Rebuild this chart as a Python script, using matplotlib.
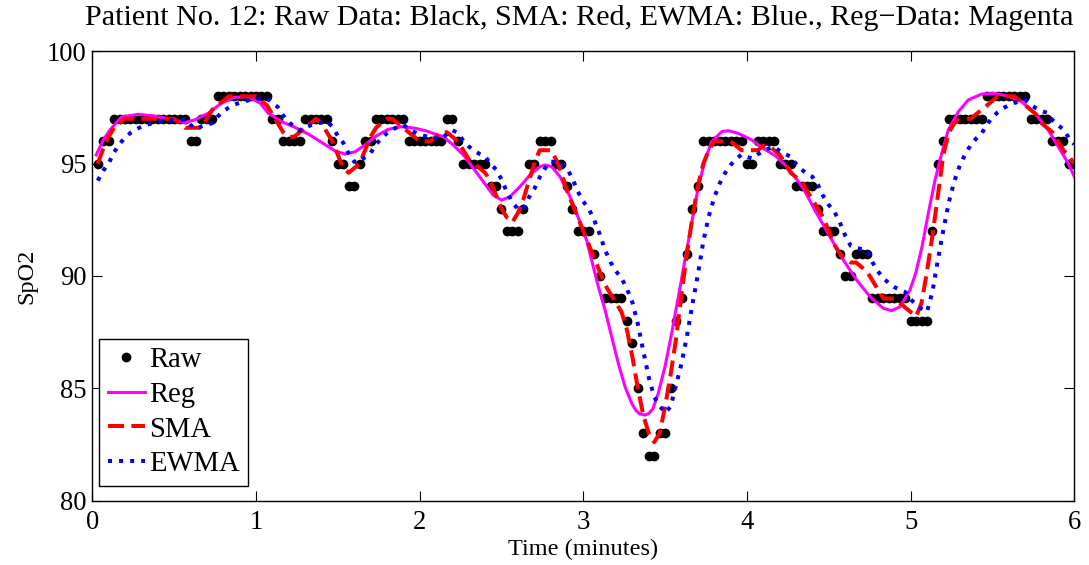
import numpy as np
import pandas as pd
import matplotlib
matplotlib.use("Agg")
import matplotlib.pyplot as plt

# ---------------- data ----------------
# raw SpO2 samples, one every 2 seconds (sample k at k*2 s, k = 1..180)
sample_seconds = 2
raw_spo2 = [
    95, 96, 96, 97, 97, 97, 97, 97, 97, 97,
    97, 97, 97, 97, 97, 97, 97, 96, 96, 97,
    97, 97, 98, 98, 98, 98, 98, 98, 98, 98,
    98, 98, 97, 97, 96, 96, 96, 96, 97, 97,
    97, 97, 97, 96, 95, 95, 94, 94, 95, 96,
    96, 97, 97, 97, 97, 97, 97, 96, 96, 96,
    96, 96, 96, 96, 97, 97, 96, 95, 95, 95,
    95, 95, 94, 94, 93, 92, 92, 92, 93, 95,
    95, 96, 96, 96, 95, 95, 94, 93, 92, 92,
    92, 91, 90, 89, 89, 89, 89, 88, 87, 85,
    83, 82, 82, 83, 83, 85, 88, 89, 91, 93,
    94, 96, 96, 96, 96, 96, 96, 96, 96, 95,
    95, 96, 96, 96, 96, 95, 95, 95, 94, 94,
    94, 94, 93, 92, 92, 92, 91, 90, 90, 91,
    91, 91, 89, 89, 89, 89, 89, 89, 89, 88,
    88, 88, 88, 92, 95, 96, 97, 97, 97, 97,
    97, 97, 97, 98, 98, 98, 98, 98, 98, 98,
    98, 97, 97, 97, 97, 96, 96, 96, 95, 95,
]

# regression curve (magenta): time (min), SpO2
reg_time = [0.024, 0.067, 0.108, 0.177, 0.279, 0.381, 0.483, 0.564, 0.625, 0.707,
            0.788, 0.870, 0.951, 1.025, 1.075, 1.157, 1.238, 1.320, 1.401, 1.483,
            1.544, 1.605, 1.666, 1.727, 1.808, 1.890, 1.972, 2.045, 2.083, 2.145,
            2.206, 2.267, 2.328, 2.389, 2.450, 2.501, 2.552, 2.613, 2.674, 2.735,
            2.766, 2.807, 2.858, 2.919, 2.980, 3.020, 3.051, 3.092, 3.133, 3.173,
            3.214, 3.255, 3.296, 3.320, 3.345, 3.377, 3.400, 3.425, 3.458, 3.499,
            3.540, 3.581, 3.621, 3.662, 3.703, 3.744, 3.784, 3.846, 3.886, 3.947,
            4.029, 4.100, 4.182, 4.263, 4.344, 4.426, 4.507, 4.589, 4.670, 4.752,
            4.833, 4.884, 4.935, 4.996, 5.030, 5.068, 5.108, 5.149, 5.190, 5.230,
            5.291, 5.352, 5.434, 5.515, 5.597, 5.678, 5.760, 5.841, 5.902, 5.963,
            6.000]
reg_spo2 = [95.39, 96.06, 96.50, 97.07, 97.20, 97.12, 96.98, 96.83, 96.95, 97.24,
            97.69, 97.96, 97.98, 97.70, 97.25, 96.87, 96.62, 96.32, 95.95, 95.57,
            95.43, 95.53, 95.83, 96.20, 96.53, 96.65, 96.58, 96.45, 96.35, 96.20,
            95.83, 95.39, 94.80, 94.20, 93.60, 93.38, 93.53, 93.98, 94.50, 94.87,
            94.94, 94.87, 94.42, 93.53, 92.40, 91.60, 90.71, 89.52, 88.49, 87.30,
            86.11, 85.07, 84.33, 84.03, 83.86, 83.81, 83.88, 84.08, 84.78, 85.96,
            87.45, 89.08, 90.71, 92.35, 93.98, 95.17, 95.98, 96.43, 96.47, 96.35,
            96.06, 95.68, 95.31, 94.72, 93.90, 92.79, 91.75, 90.71, 89.82, 89.08,
            88.56, 88.46, 88.63, 89.38, 90.10, 91.25, 92.79, 94.27, 95.46, 96.50,
            97.31, 97.84, 98.10, 98.13, 98.01, 97.76, 97.24, 96.50, 95.76, 95.02,
            94.42]

sma_span = 5          # centred simple moving average span
ewma_alpha = 0.25     # exponential weight
ewma_start = 94.0     # filter state before the first sample

title_text = "Patient No. 12: Raw Data: Black, SMA: Red, EWMA: Blue., Reg\u2212Data: Magenta"
x_ticks = [0, 1, 2, 3, 4, 5, 6]
y_ticks = [80, 85, 90, 95, 100]
legend_labels = ["Raw", "Reg", "SMA", "EWMA"]

# ---------------- derived series ----------------
raw = np.asarray(raw_spo2, dtype=float)
n = len(raw)
t_raw = np.arange(1, n + 1) * sample_seconds / 60.0

# MATLAB-style smooth(): centred window that shrinks symmetrically at the ends
half = sma_span // 2
sma = np.empty(n)
for i in range(n):
    h = min(half, i, n - 1 - i)
    sma[i] = raw[i - h:i + h + 1].mean()

ewma = (pd.Series(np.concatenate([[ewma_start], raw]))
        .ewm(alpha=ewma_alpha, adjust=False).mean().to_numpy()[1:])

# ---------------- figure ----------------
plt.rcParams["font.family"] = ["Liberation Serif", "DejaVu Serif"]

W, H = 1089, 565
fig = plt.figure(figsize=(W / 100, H / 100), dpi=100)
ax_l, ax_r, ax_t, ax_b = 92.3, 1074.3, 51.4, 500.6
ax = fig.add_axes([ax_l / W, 1 - ax_b / H, (ax_r - ax_l) / W, (ax_b - ax_t) / H])

ax.plot(t_raw, raw, linestyle="none", marker="o", markersize=6,
        color="black", label=legend_labels[0], zorder=2)
ax.plot(reg_time, reg_spo2, color="#FF00FF", linewidth=2.2,
        label=legend_labels[1], zorder=3)
ax.plot(t_raw, sma, color="#FF0000", linewidth=2.9,
        linestyle=(0, (4.0, 1.8)), label=legend_labels[2], zorder=4)
ax.plot(t_raw, ewma, color="#0000FF", linewidth=2.9,
        linestyle=(0, (1.0, 1.75)), label=legend_labels[3], zorder=5)

ax.set_xlim(0, 6)
ax.set_ylim(80, 100)
ax.set_xticks(x_ticks)
ax.set_yticks(y_ticks)
ax.tick_params(direction="in", length=7, width=0.8, top=True, right=True,
               labelsize=19.2)
ax.tick_params(axis="x", pad=7)
ax.tick_params(axis="y", pad=4)
for sp in ax.spines.values():
    sp.set_linewidth(1.0)

ax.set_xlabel("Time (minutes)", fontsize=17.5)
ax.xaxis.label.set_va("center")
ax.xaxis.set_label_coords(0.5, (ax_b - 549) / (ax_b - ax_t))
ax.set_ylabel("SpO2", fontsize=17.5)
ax.yaxis.label.set_va("center")
ax.yaxis.set_label_coords((27 - ax_l) / (ax_r - ax_l), 0.5)

fig.text(579.5 / W, 1 - 18 / H, title_text, fontsize=21.7, ha="center", va="center")

leg = ax.legend(loc="lower left",
                bbox_to_anchor=((99 - ax_l) / (ax_r - ax_l), (ax_b - 485.7) / (ax_b - ax_t)),
                borderaxespad=0, fontsize=20.6, frameon=True, fancybox=False,
                edgecolor="black", framealpha=1, handlelength=1.3,
                handletextpad=0.15, labelspacing=0.3, borderpad=0.3, numpoints=1)
leg.get_frame().set_linewidth(1.0)

fig.savefig("out.png", dpi=100)
